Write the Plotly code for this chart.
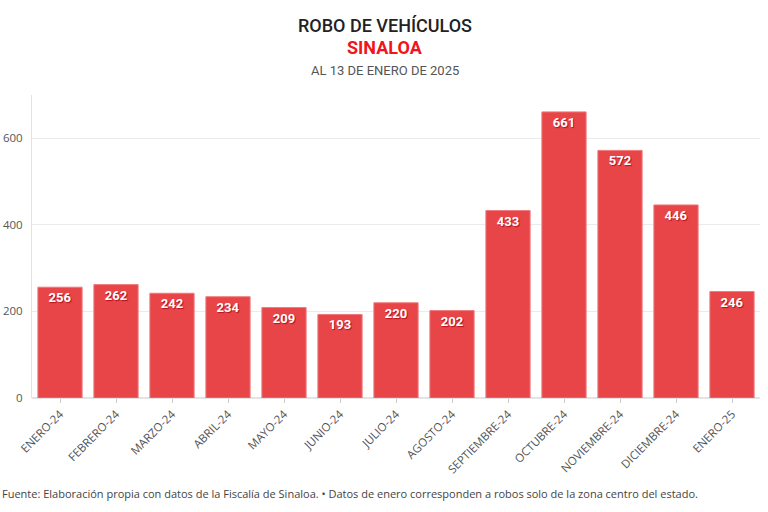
import plotly.graph_objects as go

categorias = ["ENERO-24", "FEBRERO-24", "MARZO-24", "ABRIL-24", "MAYO-24", "JUNIO-24",
              "JULIO-24", "AGOSTO-24", "SEPTIEMBRE-24", "OCTUBRE-24", "NOVIEMBRE-24",
              "DICIEMBRE-24", "ENERO-25"]
robos = [256, 262, 242, 234, 209, 193, 220, 202, 433, 661, 572, 446, 246]
y_ticks = [0, 200, 400, 600]

W, H = 768, 512
ML, MR, MT, MB = 32, 8, 95, 114

fig = go.Figure(go.Bar(
    x=categorias, y=robos,
    marker=dict(color="#E84548", line=dict(color="#F07A7C", width=1)),
    text=[str(v) for v in robos],
    textposition="inside", insidetextanchor="end",
    textfont=dict(family="Roboto, Arial", size=13, color="white", weight="bold",
                  shadow="1px 1px 1px #B5121B"),
    hoverinfo="x+y",
))

def py(pix):
    return (H - MB - pix) / (H - MT - MB)

def px(pix):
    return (pix - ML) / (W - ML - MR)

fig.update_layout(
    width=W, height=H,
    margin=dict(l=ML, r=MR, t=MT, b=MB),
    paper_bgcolor="white", plot_bgcolor="white",
    bargap=0.21, showlegend=False,
    font=dict(family="Roboto, Arial", color="#555"),
    xaxis=dict(tickangle=-45, tickfont=dict(size=11.5, color="#555", family="Open Sans, Arial"),
               ticks="outside", ticklen=4, tickcolor="#ccc", showline=False, automargin=False),
    yaxis=dict(range=[0, 700], tickvals=y_ticks,
               tickfont=dict(size=11.5, color="#555", family="Open Sans, Arial"),
               gridcolor="#ebebeb", showline=True, linecolor="#e3e3e3", zeroline=True,
               zerolinecolor="#e3e3e3", ticks="", ticklabelstandoff=6, automargin=False),
    annotations=[
        dict(text="ROBO DE VEHÍCULOS", x=px(385), y=py(25), xref="paper", yref="paper",
             showarrow=False, yanchor="middle",
             font=dict(size=18, color="#222", family="Roboto, Arial", weight=500)),
        dict(text="<b>SINALOA</b>", x=px(385), y=py(47), xref="paper", yref="paper",
             showarrow=False, yanchor="middle",
             font=dict(size=18, color="#F2141C", family="Roboto, Arial")),
        dict(text="AL 13 DE ENERO DE 2025", x=px(385), y=py(71), xref="paper", yref="paper",
             showarrow=False, yanchor="middle",
             font=dict(size=13, color="#555", family="Roboto, Arial")),
        dict(text="Fuente: Elaboración propia con datos de la Fiscalía de Sinaloa. • Datos de enero corresponden a robos solo de la zona centro del estado.",
             x=px(0), y=py(493), xref="paper", yref="paper", showarrow=False,
             xanchor="left", yanchor="middle",
             font=dict(size=11, color="#444", family="Open Sans, Arial")),
    ],
)

fig.write_html("out.html", config={"displayModeBar": False},
               post_script="document.body.style.margin='0';")
